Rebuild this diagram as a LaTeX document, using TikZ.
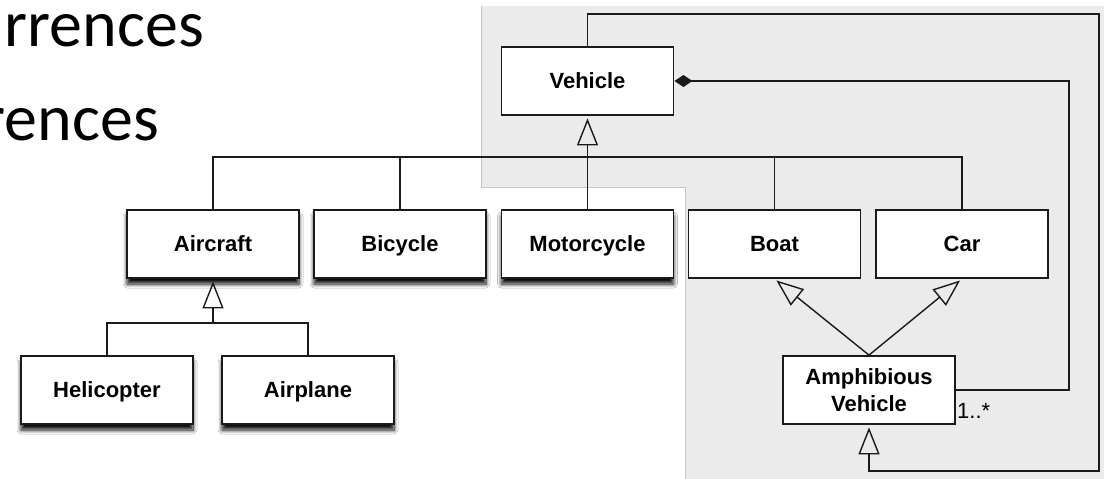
\documentclass[tikz,border=0pt]{standalone}
\usepackage{fontspec}
\newfontfamily\umlfont{Liberation Sans}
\newfontfamily\slidefont{Carlito}
\usetikzlibrary{arrows.meta,shadows.blur}
\definecolor{panel}{HTML}{EBEBEB}
\definecolor{paneledge}{HTML}{C4C4C4}
\definecolor{ink}{HTML}{1A1A1A}

\begin{document}
\begin{tikzpicture}[x=1pt,y=-1pt,
  classbox/.style={draw=ink, line width=1.8pt, fill=white,
    minimum width=172pt, minimum height=68pt, inner sep=0pt,
    font=\umlfont\bfseries\fontsize{22}{27}\selectfont},
  oneline/.style={text height=15.8pt, text depth=0pt},
  shadowed/.style={blur shadow={shadow xshift=0pt, shadow yshift=-6pt,
    shadow blur radius=4pt, shadow blur steps=8, shadow opacity=95}},
  link/.style={draw=ink, line width=1.4pt},
  gen/.style={link, -{Triangle[open, length=27pt, width=21pt, line width=1.4pt]},
    shorten >=2.5pt},
  comp/.style={link, {Diamond[length=18pt, width=12pt]}-},
  slidetext/.style={font=\slidefont\fontsize{66}{70}\selectfont,
    anchor=base east, inner sep=0pt},
]
% page and the grey panel behind the right-hand part
\useasboundingbox (0,0) rectangle (1104,479);
\fill[white] (0,0) rectangle (1104,479);
\fill[panel] (481,6) -- (1104,6) -- (1104,479) -- (685,479) -- (685,187)
  -- (481,187) -- cycle;
\draw[paneledge, line width=1pt] (685,479) -- (685,187) -- (481,187) -- (481,6);

% slide headline fragments
\node[slidetext] (line1) at (204,46) {rrences};
\node[slidetext] (line2) at (159,140) {rences};

% classes
\node[classbox, oneline] (vehicle) at (587.5,81) {Vehicle};
\node[classbox, oneline, shadowed] (aircraft) at (213,244) {Aircraft};
\node[classbox, oneline, shadowed] (bicycle) at (400,244) {Bicycle};
\node[classbox, oneline, shadowed] (motorcycle) at (587.5,244) {Motorcycle};
\node[classbox, oneline] (boat) at (774.5,244) {Boat};
\node[classbox, oneline] (car) at (962,244) {Car};
\node[classbox, oneline, shadowed] (helicopter) at (107,390) {Helicopter};
\node[classbox, oneline, shadowed] (airplane) at (308,390) {Airplane};
\node[classbox, align=center] (amph) at (869,390) {Amphibious\\Vehicle};

% generalisation of the vehicle kinds
\coordinate (bus) at (587.5,157);
\draw[link] (aircraft.north) |- (bus) -| (car.north);
\draw[link] (bicycle.north) -- (bicycle.north |- bus);
\draw[link] (boat.north) -- (boat.north |- bus);
\draw[gen] (motorcycle.north) -- (vehicle.south);

% aircraft kinds
\coordinate (bus2) at (213,323);
\draw[link] (helicopter.north) |- (bus2) -| (airplane.north);
\draw[gen] (bus2) -- (aircraft.south);

% amphibious vehicle is both boat and car
\draw[gen] (amph.north) -- (boat.south);
\draw[gen] (amph.north) -- (car.south);

% composition with multiplicity
\coordinate (compx) at (1069,0);
\draw[comp] (vehicle.east) -- (vehicle.east -| compx) |- (amph.east);
\node[font=\umlfont\fontsize{22}{26}\selectfont, anchor=base west,
  inner sep=0pt] (mult) at (957,418) {1..*};

% outer loop back to the amphibious vehicle
\coordinate (looptr) at (1099,14);
\coordinate (loopbr) at (1099,471);
\draw[gen] (vehicle.north) |- (looptr) -- (loopbr) -| (amph.south);
\end{tikzpicture}
\end{document}
